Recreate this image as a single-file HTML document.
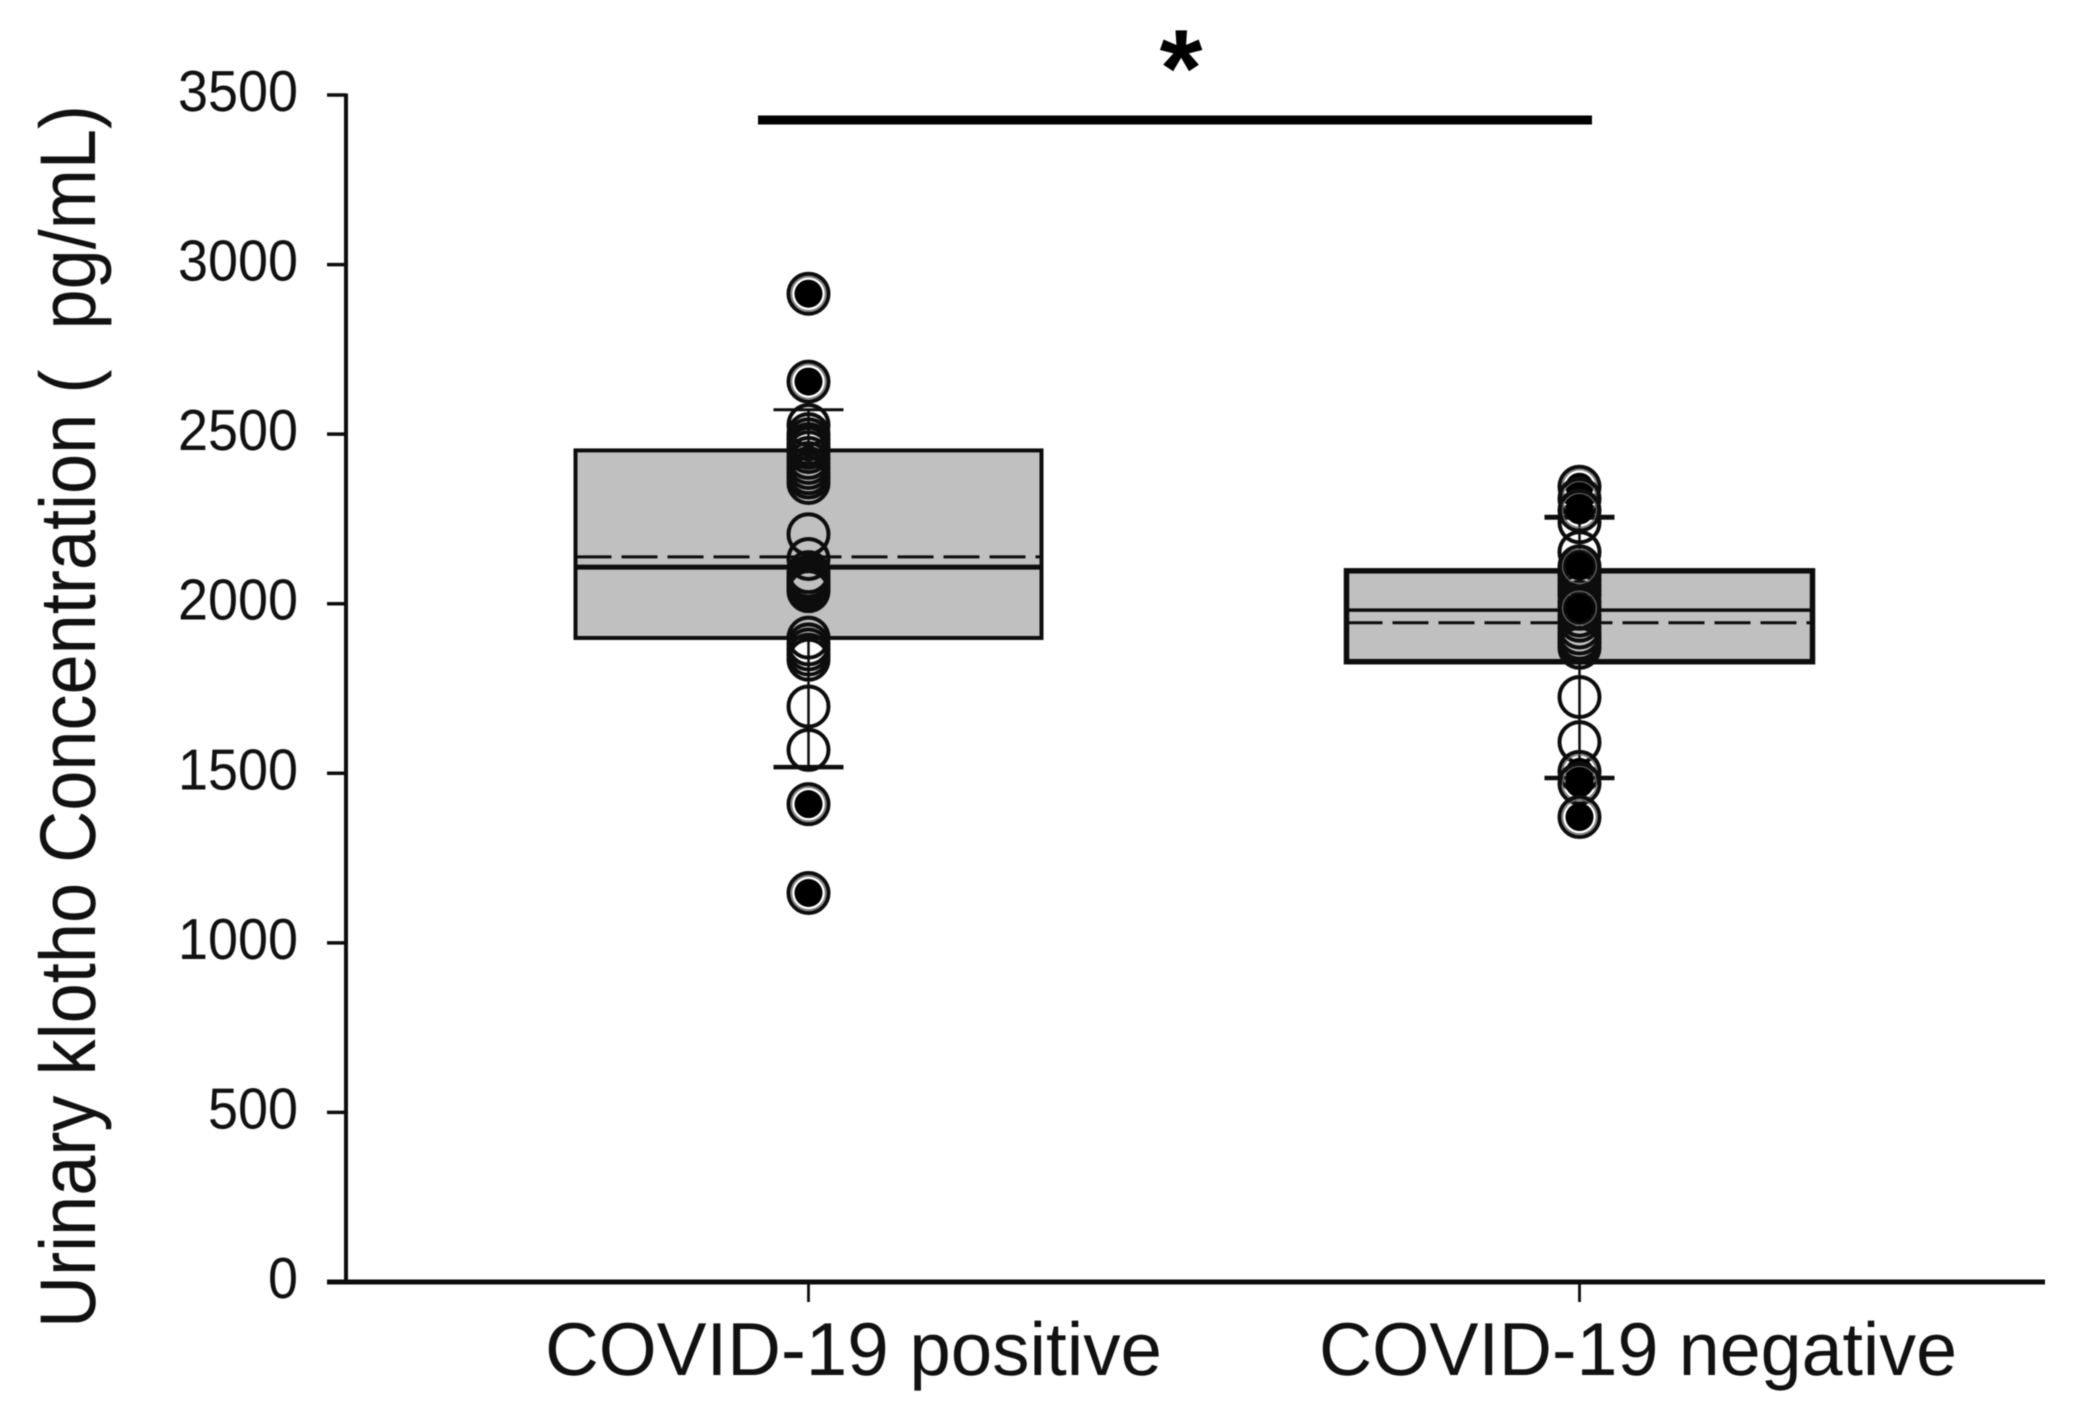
<!DOCTYPE html>
<html lang="en">
<head>
<meta charset="utf-8">
<title>Urinary klotho concentration box plot</title>
<style>
  html, body { margin: 0; padding: 0; background: #fff; }
  svg { display: block; filter: blur(0.6px); }
  text { font-family: "Liberation Sans", Arial, sans-serif; fill: #111; text-rendering: geometricPrecision; }
</style>
</head>
<body>
<svg id="chart" xmlns="http://www.w3.org/2000/svg" width="2073" height="1422" viewBox="0 0 2073 1422">
  <rect x="0" y="0" width="2073" height="1422" fill="#fff"/>
  <text id="ytitle" transform="translate(95,1328) rotate(-90)" font-size="79" textLength="1223" lengthAdjust="spacingAndGlyphs" xml:space="preserve" style="white-space:pre">Urinary klotho Concentration (  pg/mL)</text>
  <g id="plot"></g>
  <line x1="758" x2="1592" y1="120" y2="120" stroke="#000" stroke-width="9"/>
  <text x="1181" y="106" font-size="110" font-weight="bold" text-anchor="middle" style="fill:#000">*</text>
</svg>
<script>
const categories = ["COVID-19 positive", "COVID-19 negative"];
const yTickValues = [0, 500, 1000, 1500, 2000, 2500, 3000, 3500];
const yTickLabels = ["0", "500", "1000", "1500", "2000", "2500", "3000", "3500"];
const q1Values = [1899, 1829];
const medianValues = [2108, 1981];
const q3Values = [2452, 2097];
const meanValues = [2138, 1944];
const whiskerLow = [1518, 1486];
const whiskerHigh = [2572, 2255];
const outliersPositive = [2914, 2655, 1409, 1147];
const outliersNegative = [2345, 2310, 2275, 2110, 1987, 1504, 1470, 1371];
const pointsPositive = [1569, 1697, 1835, 1850, 1865, 1880, 1900, 2037, 2045, 2052, 2060, 2070, 2080, 2093, 2132, 2205, 2356, 2372, 2385, 2400, 2415, 2430, 2447, 2460, 2471, 2485, 2500, 2527];
const pointsNegative = [1592, 1725, 1870, 1884, 1897, 1912, 1930, 1950, 1965, 1985, 2005, 2025, 2040, 2055, 2070, 2085, 2097, 2152, 2240];
const outlierSets = [outliersPositive, outliersNegative];
const pointSets = [pointsPositive, pointsNegative];

const NS = "http://www.w3.org/2000/svg";
const plot = document.getElementById("plot");
const yZero = 1282;
const yScale = 1187 / 3500;
function yOf(v) { return yZero - v * yScale; }
function xOf(i) { return 808.5 + i * 771; }

function add(tag, props) {
  const el = document.createElementNS(NS, tag);
  for (const k in props) el.setAttribute(k, props[k]);
  plot.appendChild(el);
  return el;
}
function line(x1, y1, x2, y2, width, dash) {
  const props = { x1: x1, y1: y1, x2: x2, y2: y2, stroke: "#0d0d0d", "stroke-width": width };
  if (dash) props["stroke-dasharray"] = dash;
  return add("line", props);
}

/* boxes and whiskers */
categories.forEach(function (cat, i) {
  const cx = xOf(i);
  const halfBox = 233;
  const halfCap = 35;

  const lowStem = line(cx, yOf(whiskerLow[i]), cx, yOf(q1Values[i]), 2.5);
  
  
  const highStem = line(cx, yOf(q3Values[i]), cx, yOf(whiskerHigh[i]), 2.5);
  
  

  const box = add("rect", {
    x: cx - halfBox, y: yOf(q3Values[i]), width: halfBox * 2,
    height: yOf(q1Values[i]) - yOf(q3Values[i]),
    fill: "#c0c0c0", stroke: "#0d0d0d", "stroke-width": i === 0 ? 4 : 5.5
  });
  
  

  const med = line(cx - halfBox, yOf(medianValues[i]), cx + halfBox, yOf(medianValues[i]), i === 0 ? 5 : 3.5);
  
  
  const mean = line(cx - halfBox, yOf(meanValues[i]), cx + halfBox, yOf(meanValues[i]), 3, "36 10");
  
  

  const capHigh = line(cx - halfCap, yOf(whiskerHigh[i]), cx + halfCap, yOf(whiskerHigh[i]), i === 0 ? 3 : 5);
  
  
  const capLow = line(cx - halfCap, yOf(whiskerLow[i]), cx + halfCap, yOf(whiskerLow[i]), 4.5);
  
  

  /* open data points */
  pointSets[i].forEach(function (v) {
    const c = add("circle", { cx: cx, cy: yOf(v), r: 20, fill: "none", stroke: "#0d0d0d", "stroke-width": 4 });
    
    
  });

  /* outliers: solid dot with double ring */
  outlierSets[i].forEach(function (v) {
    const dot = add("circle", { cx: cx, cy: yOf(v), r: 14, fill: "#000" });
    
    
    const inner = add("circle", { cx: cx, cy: yOf(v), r: 17, fill: "none", stroke: "#666", "stroke-width": 1.2 });
    
    
    const ring = add("circle", { cx: cx, cy: yOf(v), r: 20, fill: "none", stroke: "#0d0d0d", "stroke-width": 4 });
    
    
  });
});

/* y axis */
const yAxis = line(346, yOf(3500) - 1.5, 346, yZero, 4);


yTickValues.forEach(function (v, i) {
  const t = line(327, yOf(v), 346, yOf(v), 3.5);
  
  
  const lab = add("text", { x: 298, y: yOf(v) + 16, "font-size": 58, "text-anchor": "end", textLength: yTickLabels[i].length * 30, lengthAdjust: "spacingAndGlyphs" });
  lab.textContent = yTickLabels[i];
  
  
});

/* x axis */
const xAxis = line(327, yZero, 2045, yZero, 5);


categories.forEach(function (cat, i) {
  const t = line(xOf(i), yZero, xOf(i), 1302, 2.8);
  
  
  const lab = add("text", { x: i === 0 ? 545 : 1319, y: 1375, "font-size": 75, textLength: i === 0 ? 617 : 638, lengthAdjust: "spacingAndGlyphs" });
  lab.textContent = cat;
  
  
});
</script>
</body>
</html>
